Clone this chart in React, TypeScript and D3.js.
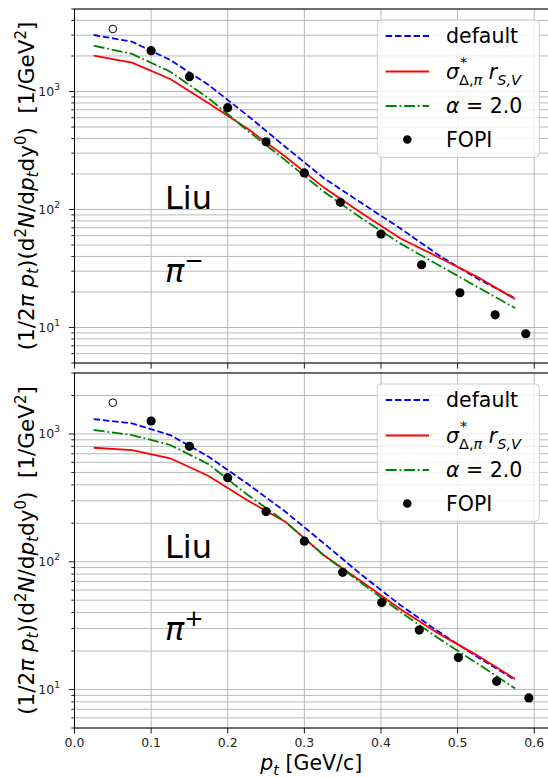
import * as d3 from "d3";

// model curves share the same pt grid
const ptModel = [0.025, 0.075, 0.125, 0.175, 0.225, 0.275, 0.325, 0.375, 0.425, 0.475, 0.525, 0.575];

// pi- panel
const defaultMinus = [3010, 2640, 1850, 1135, 632, 340, 185, 113, 69.3, 41.1, 26.1, 17.7];
const sigmaMinus = [2010, 1754, 1277, 795, 488, 281, 154, 92.9, 57, 39.4, 27, 17.4];
const alphaMinus = [2444, 2080, 1472, 875, 472, 262, 142, 84, 51.6, 33.8, 22.2, 14.6];
const fopiMinusPt = [0.1, 0.15, 0.2, 0.25, 0.3, 0.347, 0.4, 0.453, 0.503, 0.549, 0.589];
const fopiMinus = [2216, 1334, 729, 375, 204, 115, 62, 34, 19.7, 12.8, 8.85];
const openMinus = [[0.05, 3385]];

// pi+ panel
const defaultPlus = [1309, 1211, 981, 664, 411, 247, 140, 78.7, 45.9, 28.4, 18.1, 11.9];
const sigmaPlus = [780, 748, 645, 469, 304, 206, 113, 69.8, 42.7, 27.5, 18.6, 12.1];
const alphaPlus = [1074, 981, 820, 580, 337, 206, 113, 67.8, 40.6, 25.2, 16.1, 10.2];
const fopiPlusPt = [0.1, 0.15, 0.2, 0.25, 0.3, 0.35, 0.401, 0.45, 0.501, 0.551, 0.593];
const fopiPlus = [1263, 800, 455, 247, 145, 82.7, 47.9, 29.2, 17.8, 11.6, 8.6];
const openPlus = [[0.05, 1757]];

const xTicks = [0, 0.1, 0.2, 0.3, 0.4, 0.5, 0.6];

const FONT = "DejaVu Sans";
const x = d3.scaleLinear().domain([0, 0.618]).range([74.5, 548]);

function Panel({ top, bottom, ymax, curves, fopiPt, fopi, open, charge, liuY, piY, showXLabels }) {
  const y = d3.scaleLog().domain([5, ymax]).range([bottom, top]);
  const minor = [];
  for (let e = 0; e <= 3; e++) {
    for (let m = 1; m <= 9; m++) {
      const v = m * Math.pow(10, e);
      if (v >= 5 && v <= ymax) minor.push(v);
    }
  }
  const majors = [10, 100, 1000];
  const line = d3
    .line()
    .x((d) => x(d[0]))
    .y((d) => y(d[1]));
  const lx0 = 385.7, lx1 = 429, tx = 446;
  const lt = top + 11;
  const rows = [lt + 16, lt + 51.5, lt + 86, lt + 119.5];
  return (
    <g>
      {minor.map((v) => (
        <line key={"g" + v} x1={x(0)} x2={548} y1={y(v)} y2={y(v)} stroke="#b8b8b8" strokeWidth={1} />
      ))}
      {xTicks.map((t) => (
        <line key={"v" + t} x1={x(t)} x2={x(t)} y1={top} y2={bottom} stroke="#b8b8b8" strokeWidth={1} />
      ))}
      {curves.map((c) => (
        <path
          key={c.name}
          d={line(ptModel.map((p, i) => [p, c.values[i]]))}
          fill="none"
          stroke={c.color}
          strokeWidth={1.8}
          strokeDasharray={c.dash}
        />
      ))}
      {fopi.map((v, i) => (
        <circle key={"f" + i} cx={x(fopiPt[i])} cy={y(v)} r={4.6} fill="black" />
      ))}
      {open.map((d, i) => (
        <circle key={"o" + i} cx={x(d[0])} cy={y(d[1])} r={3.8} fill="none" stroke="black" strokeWidth={1} />
      ))}
      {/* frame */}
      <rect x={x(0)} y={top} width={548 - x(0) + 2} height={bottom - top} fill="none" stroke="black" strokeWidth={1} />
      {minor.map((v) => (
        <line key={"t" + v} x1={x(0) - (majors.includes(v) ? 5.6 : 3.2)} x2={x(0)} y1={y(v)} y2={y(v)} stroke="black" strokeWidth={0.9} />
      ))}
      {majors.map((v, i) => (
        <text key={"l" + v} x={60} y={y(v) + 4.5} fontSize={12.5} textAnchor="end" fill="#222">
          10<tspan dy={-6} fontSize={9}>{i + 1}</tspan>
        </text>
      ))}
      {xTicks.map((t) => (
        <line key={"xt" + t} x1={x(t)} x2={x(t)} y1={bottom} y2={bottom + 5.6} stroke="black" strokeWidth={0.9} />
      ))}
      {showXLabels &&
        xTicks.map((t) => (
          <text key={"xl" + t} x={x(t)} y={bottom + 19} fontSize={12.5} textAnchor="middle" fill="#222">
            {d3.format(".1f")(t)}
          </text>
        ))}
      <text transform={`translate(34,${(top + bottom) / 2}) rotate(-90)`} fontSize={21.5} textAnchor="middle">
        (1/2<tspan fontStyle="italic">π</tspan> <tspan fontStyle="italic">p</tspan>
        <tspan fontStyle="italic" fontSize={15} dy={4}>t</tspan>
        <tspan dy={-4}>)(d</tspan>
        <tspan fontSize={15} dy={-8}>2</tspan>
        <tspan fontStyle="italic" dy={8}>N</tspan>/d<tspan fontStyle="italic">p</tspan>
        <tspan fontStyle="italic" fontSize={15} dy={4}>t</tspan>
        <tspan dy={-4}>dy</tspan>
        <tspan fontSize={15} dy={-8}>0</tspan>
        <tspan dy={8}>{")\u00a0\u00a0[1/GeV"}</tspan>
        <tspan fontSize={15} dy={-8}>2</tspan>
        <tspan dy={8}>]</tspan>
      </text>
      <text x={165} y={liuY} fontSize={32}>Liu</text>
      <text x={165} y={piY} fontSize={32}>
        <tspan fontStyle="italic">π</tspan>
        <tspan fontSize={23} dy={-14}>{charge}</tspan>
      </text>
      {/* legend */}
      <rect x={377.3} y={lt} width={162} height={137.3} rx={4} fill="white" fillOpacity={0.8} stroke="#cccccc" />
      {curves.map((c, i) => (
        <line key={"lg" + i} x1={lx0} x2={lx1} y1={rows[i]} y2={rows[i]} stroke={c.color} strokeWidth={1.8} strokeDasharray={c.dash} />
      ))}
      <circle cx={407.3} cy={rows[3]} r={4.3} fill="black" />
      <text x={tx} y={rows[0] + 7} fontSize={20.5}>default</text>
      <text x={tx} y={rows[1] + 7} fontSize={20.5}>
        <tspan fontStyle="italic">σ</tspan>
        <tspan fontSize={14.5} dy={6}>Δ,</tspan>
        <tspan fontSize={14.5} fontStyle="italic">π</tspan>
        <tspan dy={-6}> </tspan>
        <tspan fontStyle="italic">r</tspan>
        <tspan fontSize={14.5} fontStyle="italic" dy={6}>S,V</tspan>
      </text>
      <text x={460} y={rows[1] - 5} fontSize={14.5}>*</text>
      <text x={tx} y={rows[2] + 7} fontSize={20.5}>
        <tspan fontStyle="italic">α</tspan> = 2.0
      </text>
      <text x={tx} y={rows[3] + 7} fontSize={20.5}>FOPI</text>
    </g>
  );
}

export default function App() {
  const curvesMinus = [
    { name: "default", values: defaultMinus, color: "#0000ff", dash: "6.5 2.8" },
    { name: "sigma", values: sigmaMinus, color: "#ff0000", dash: null },
    { name: "alpha", values: alphaMinus, color: "#008000", dash: "11 2.8 1.8 2.8" },
  ];
  const curvesPlus = [
    { name: "default", values: defaultPlus, color: "#0000ff", dash: "6.5 2.8" },
    { name: "sigma", values: sigmaPlus, color: "#ff0000", dash: null },
    { name: "alpha", values: alphaPlus, color: "#008000", dash: "11 2.8 1.8 2.8" },
  ];
  return (
    <svg
      width={548}
      height={777}
      style={{ position: "absolute", left: 0, top: 0, background: "white" }}
      fontFamily={FONT}
    >
      <Panel
        top={9}
        bottom={363}
        ymax={5000}
        curves={curvesMinus}
        fopiPt={fopiMinusPt}
        fopi={fopiMinus}
        open={openMinus}
        charge={"\u2212"}
        liuY={209}
        piY={282}
        showXLabels={false}
      />
      <Panel
        top={373}
        bottom={728}
        ymax={3000}
        curves={curvesPlus}
        fopiPt={fopiPlusPt}
        fopi={fopiPlus}
        open={openPlus}
        charge={"+"}
        liuY={558}
        piY={640}
        showXLabels={true}
      />
      <text x={(74.5 + 548) / 2} y={770} fontSize={20.5} textAnchor="middle">
        <tspan fontStyle="italic">p</tspan>
        <tspan fontStyle="italic" fontSize={14.5} dy={5}>t</tspan>
        <tspan dy={-5}> [GeV/c]</tspan>
      </text>
    </svg>
  );
}
